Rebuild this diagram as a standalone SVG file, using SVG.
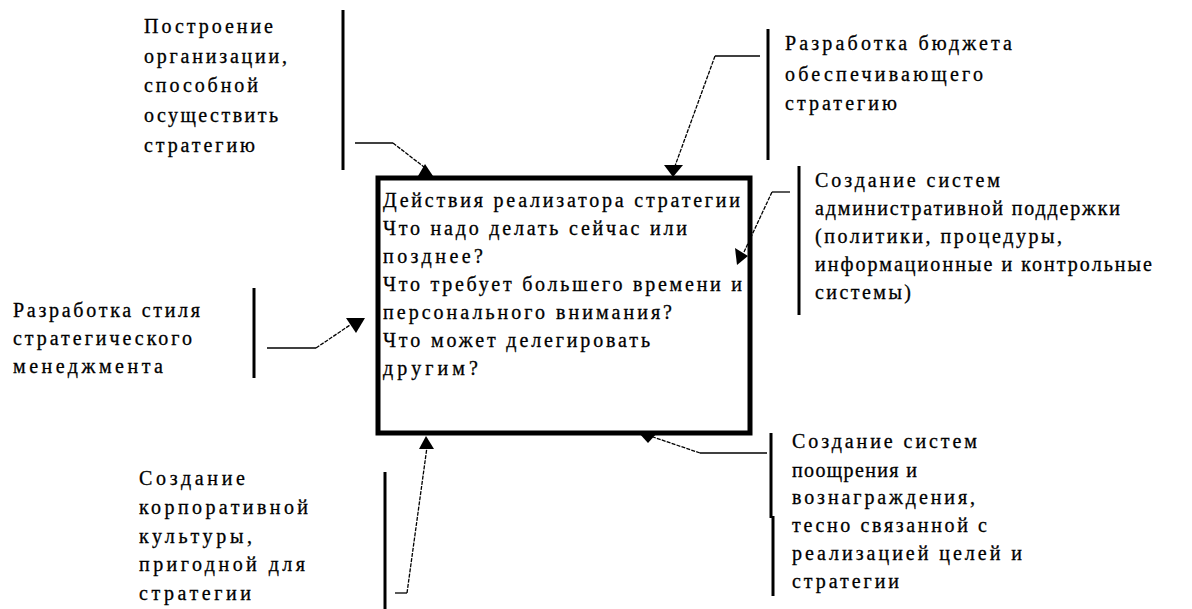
<svg xmlns="http://www.w3.org/2000/svg" width="1192" height="609" viewBox="0 0 1192 609">
<style>
text{font-family:"Liberation Serif","DejaVu Serif",serif;font-size:20px;fill:#000;stroke:#000;stroke-width:0.3}
.bar{stroke:#000;stroke-width:3;fill:none}
.ln{stroke:#000;stroke-width:1.3;fill:none}
.dg{stroke:#000;stroke-width:1.3;fill:none;stroke-dasharray:4 1.2}
.ah{fill:#000;stroke:none}
</style>
<rect width="1192" height="609" fill="#fff"/>
<g id="main">
<rect x="378" y="178" width="372" height="255" fill="#fff" stroke="#000" stroke-width="5"/>
<text x="383" y="207" textLength="357" lengthAdjust="spacing">Действия реализатора стратегии</text>
<text x="383" y="235" textLength="304" lengthAdjust="spacing">Что надо делать сейчас или</text>
<text x="383" y="263" textLength="100" lengthAdjust="spacing">позднее?</text>
<text x="383" y="291" textLength="359" lengthAdjust="spacing">Что требует большего времени и</text>
<text x="383" y="319" textLength="289" lengthAdjust="spacing">персонального внимания?</text>
<text x="383" y="347" textLength="267" lengthAdjust="spacing">Что может делегировать</text>
<text x="383" y="375" textLength="95" lengthAdjust="spacing">другим?</text>
</g>
<g id="label-organization">
<line class="bar" x1="343" y1="10" x2="343" y2="170"/>
<text x="144" y="33" textLength="129" lengthAdjust="spacing">Построение</text>
<text x="144" y="63" textLength="143" lengthAdjust="spacing">организации,</text>
<text x="144" y="92" textLength="114" lengthAdjust="spacing">способной</text>
<text x="144" y="122" textLength="134" lengthAdjust="spacing">осуществить</text>
<text x="144" y="152" textLength="111" lengthAdjust="spacing">стратегию</text>
</g>
<g id="label-budget">
<line class="bar" x1="768" y1="29" x2="768" y2="160"/>
<text x="785" y="50" textLength="227" lengthAdjust="spacing">Разработка бюджета</text>
<text x="785" y="81" textLength="198" lengthAdjust="spacing">обеспечивающего</text>
<text x="785" y="110" textLength="112" lengthAdjust="spacing">стратегию</text>
</g>
<g id="label-admin">
<line class="bar" x1="799" y1="166" x2="799" y2="315"/>
<text x="815" y="187" textLength="185" lengthAdjust="spacing">Создание систем</text>
<text x="815" y="215" textLength="305" lengthAdjust="spacing">административной поддержки</text>
<text x="815" y="243" textLength="247" lengthAdjust="spacing">(политики, процедуры,</text>
<text x="815" y="271" textLength="337" lengthAdjust="spacing">информационные и контрольные</text>
<text x="815" y="299" textLength="96" lengthAdjust="spacing">системы)</text>
</g>
<g id="label-style">
<line class="bar" x1="254" y1="288" x2="254" y2="378"/>
<text x="13" y="317" textLength="187" lengthAdjust="spacing">Разработка стиля</text>
<text x="13" y="345" textLength="179" lengthAdjust="spacing">стратегического</text>
<text x="13" y="373" textLength="150" lengthAdjust="spacing">менеджмента</text>
</g>
<g id="label-culture">
<line class="bar" x1="385" y1="472" x2="385" y2="609"/>
<text x="139" y="485" textLength="106" lengthAdjust="spacing">Создание</text>
<text x="139" y="514" textLength="169" lengthAdjust="spacing">корпоративной</text>
<text x="139" y="543" textLength="113" lengthAdjust="spacing">культуры,</text>
<text x="139" y="571" textLength="166" lengthAdjust="spacing">пригодной для</text>
<text x="139" y="600" textLength="112" lengthAdjust="spacing">стратегии</text>
</g>
<g id="label-reward">
<line class="bar" x1="771" y1="433" x2="771" y2="518"/>
<line class="bar" x1="773" y1="516" x2="773" y2="596"/>
<text x="792" y="448" textLength="185" lengthAdjust="spacing">Создание систем</text>
<text x="792" y="477" textLength="125" lengthAdjust="spacing">поощрения и</text>
<text x="792" y="504" textLength="183" lengthAdjust="spacing">вознаграждения,</text>
<text x="792" y="532" textLength="195" lengthAdjust="spacing">тесно связанной с</text>
<text x="792" y="560" textLength="230" lengthAdjust="spacing">реализацией целей и</text>
<text x="792" y="588" textLength="107" lengthAdjust="spacing">стратегии</text>
</g>
<g id="connectors">
<line class="ln" x1="355" y1="143" x2="393" y2="143"/>
<line class="dg" x1="393" y1="143" x2="424" y2="167"/>
<polygon class="ah" points="425,164 418,176 433,176"/>
<line class="ln" x1="760" y1="56" x2="715" y2="56"/>
<line class="dg" x1="715" y1="56" x2="675" y2="166"/>
<polygon class="ah" points="664,165 683,165 673,177"/>
<line class="ln" x1="790" y1="192" x2="772" y2="192"/>
<line class="dg" x1="772" y1="192" x2="744" y2="252"/>
<polygon class="ah" points="735,248 748,256 737,265"/>
<line class="ln" x1="267" y1="348" x2="316" y2="348"/>
<line class="dg" x1="316" y1="348" x2="350" y2="325"/>
<polygon class="ah" points="346,318 365,318 356,333"/>
<line class="ln" x1="395" y1="593" x2="407" y2="593"/>
<line class="dg" x1="407" y1="593" x2="427" y2="447"/>
<polygon class="ah" points="426,436 419,449 434,449"/>
<line class="ln" x1="767" y1="453" x2="700" y2="453"/>
<line class="dg" x1="700" y1="453" x2="653" y2="437"/>
<polygon class="ah" points="638,432 658,432 648,443"/>
</g>
</svg>
